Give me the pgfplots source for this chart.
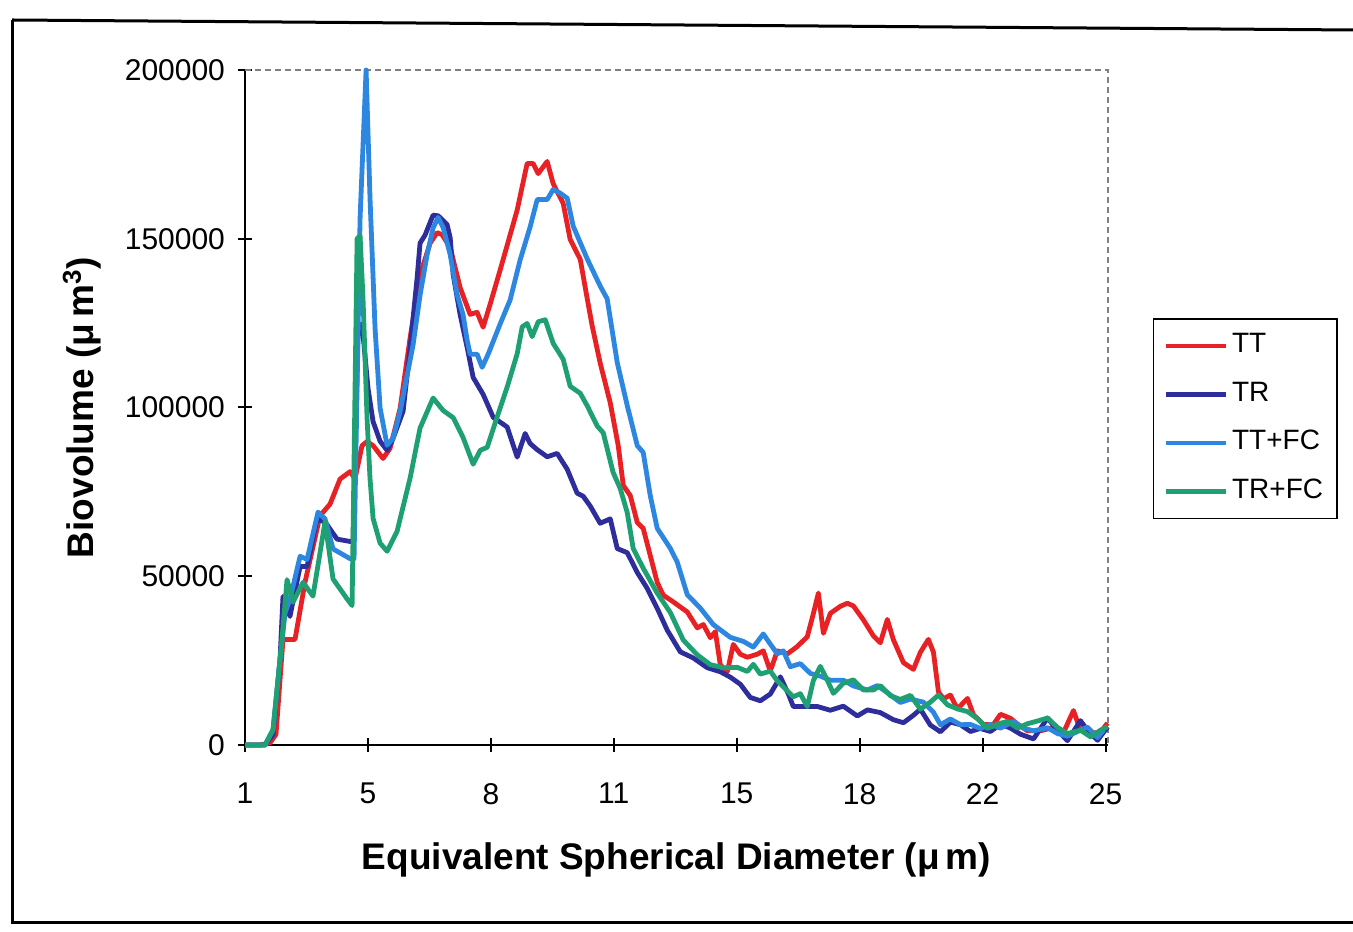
\documentclass[border=0pt]{standalone}
\usepackage{pgfplots}
\pgfplotsset{compat=1.18}
\usepackage{fontspec}
\setmainfont{Liberation Sans}
\definecolor{cTT}{RGB}{232,34,36}
\definecolor{cTR}{RGB}{45,45,155}
\definecolor{cTTFC}{RGB}{45,135,225}
\definecolor{cTRFC}{RGB}{30,160,115}
\begin{document}
\begin{tikzpicture}
\begin{scope}[x=0.5pt,y=0.5pt]
\useasboundingbox (0,0) rectangle (1353,931);
\fill[white] (0,0) rectangle (1353,931);
\draw[line width=1.5pt] (12,911) -- (12,9) -- (1353,9);
\draw[line width=1.5pt] (12,911) -- (1353,901);
\end{scope}
\begin{axis}[
  at={(122.5pt,93pt)}, anchor=south west,
  scale only axis, width=431.5pt, height=337.5pt,
  xmin=0, xmax=7.02, ymin=0, ymax=200000,
  clip=false,
  axis x line*=bottom, axis y line*=left,
  axis line style={black, line width=1.2pt},
  tick style={black, line width=1pt},
  tick align=center, major tick length=7pt,
  xtick={0,1,2,3,4,5,6,7},
  xticklabels={1,5,8,11,15,18,22,25},
  ytick={0,50000,100000,150000,200000},
  scaled y ticks=false,
  /pgf/number format/assume math mode=true,
  yticklabel style={/pgf/number format/fixed, /pgf/number format/1000 sep={}, font=\fontsize{15}{18}\selectfont, xshift=-3pt},
  xticklabel style={font=\fontsize{15}{18}\selectfont, yshift=-12pt},
  xlabel={Equivalent Spherical Diameter (μ\,m)},
  ylabel={Biovolume (μ\,m\textsuperscript{3})},
  xlabel style={at={(axis description cs:0.5,-0.1704)}, anchor=center, font=\fontsize{18.5}{22}\selectfont\bfseries},
  ylabel style={at={(axis description cs:-0.189,0.5)}, anchor=center, font=\fontsize{18.5}{22}\selectfont\bfseries},
  legend style={at={(axis description cs:1.052,0.6326)}, anchor=north west, draw=black, line width=0.8pt,
    font=\fontsize{14}{16}\selectfont, inner xsep=5pt, inner ysep=5pt, row sep=7.3pt,
    nodes={inner sep=2pt, text height=10pt, text depth=3pt}},
  legend cell align=left,
  legend image code/.code={\draw[#1, line width=2.2pt] (0pt,0pt) -- (30pt,0pt);},
  every axis plot/.append style={line width=2.4pt, line join=round},
]
\draw[gray, densely dashed, line width=0.8pt] (rel axis cs:0,1) -- (rel axis cs:1,1) -- (rel axis cs:1,0);
\addplot[cTT] coordinates {
(0,0) (0.122,0) (0.203,600) (0.252,3100) (0.309,31200) (0.407,31300) (0.488,48200) (0.610,67900)
(0.692,71400) (0.773,78800) (0.855,81000) (0.895,78900) (0.952,88700) (0.993,89900) (1.042,88700)
(1.123,84900) (1.180,87900) (1.262,99800) (1.343,120600) (1.424,139300) (1.506,148700) (1.563,151800)
(1.603,151200) (1.669,147400) (1.750,135500) (1.831,127600) (1.888,128200) (1.937,123800) (1.994,130600)
(2.076,140800) (2.214,158500) (2.295,172300) (2.344,172300) (2.385,169300) (2.458,172900) (2.507,166300)
(2.588,160500) (2.645,149800) (2.727,143900) (2.784,132200) (2.824,124200) (2.889,113200) (2.971,101400)
(3.036,88700) (3.077,76900) (3.134,73900) (3.191,65900) (3.239,64200) (3.296,56200) (3.353,48200)
(3.402,44400) (3.484,42400) (3.598,39400) (3.679,34700) (3.728,35700) (3.785,31800) (3.826,33600)
(3.866,23800) (3.923,21700) (3.972,29800) (4.029,26900) (4.086,26000) (4.167,26900) (4.216,27900)
(4.273,21900) (4.330,27900) (4.412,27000) (4.493,29200) (4.574,32100) (4.623,38900) (4.664,45000)
(4.705,33100) (4.761,39000) (4.843,41100) (4.900,42000) (4.949,41200) (5.030,37100) (5.112,32300)
(5.168,30300) (5.225,37200) (5.274,31200) (5.356,24400) (5.437,22400) (5.494,27500) (5.559,31300)
(5.600,27500) (5.641,15700) (5.681,13700) (5.738,14800) (5.795,10700) (5.877,13800) (5.925,9000)
(6.007,6100) (6.088,6100) (6.145,9100) (6.227,7900) (6.284,6200) (6.365,4200) (6.471,4200)
(6.577,5200) (6.658,3700) (6.739,10200) (6.796,4300) (6.878,3500) (6.959,3800) (7.016,6500)
};
\addlegendentry{TT}
\addplot[cTR] coordinates {
(0,0) (0.163,0) (0.228,3100) (0.285,25300) (0.309,44000) (0.366,38100) (0.448,52900) (0.505,52900)
(0.586,66900) (0.651,66100) (0.749,61000) (0.855,60300) (0.879,60300) (0.920,123400) (0.952,124800)
(1.001,105600) (1.042,95800) (1.099,90000) (1.156,87300) (1.205,90900) (1.286,98900) (1.343,117600)
(1.400,138400) (1.424,148700) (1.465,151100) (1.530,157000) (1.571,156800) (1.644,154200) (1.669,150300)
(1.693,139400) (1.750,127500) (1.807,117800) (1.856,108900) (1.937,103900) (2.019,97100) (2.133,94200)
(2.214,85300) (2.279,92300) (2.320,89300) (2.377,87500) (2.458,85400) (2.539,86400) (2.621,81700)
(2.702,74600) (2.751,73700) (2.808,70800) (2.889,65700) (2.971,67000) (3.028,58200) (3.109,57000)
(3.191,51100) (3.272,46400) (3.353,40500) (3.435,34000) (3.541,27600) (3.646,25800) (3.760,22900)
(3.866,21700) (3.948,20100) (4.029,18000) (4.110,14100) (4.192,13100) (4.273,15100) (4.355,20200)
(4.420,15100) (4.460,11400) (4.574,11400) (4.656,11400) (4.761,10300) (4.867,11500) (4.981,8600)
(5.063,10400) (5.168,9600) (5.274,7500) (5.356,6600) (5.437,8800) (5.494,10600) (5.575,5900)
(5.657,3900) (5.738,6800) (5.820,6000) (5.901,4000) (5.982,4900) (6.064,4000) (6.145,6200)
(6.227,5000) (6.308,3200) (6.414,1800) (6.528,8000) (6.609,4300) (6.690,1300) (6.796,7200)
(6.853,4400) (6.935,1400) (7.016,5300)
};
\addlegendentry{TR}
\addplot[cTTFC] coordinates {
(0,0) (0.163,0) (0.228,4500) (0.285,25300) (0.326,39200) (0.366,43200) (0.448,55900) (0.505,55000)
(0.594,69000) (0.651,67000) (0.716,58100) (0.855,55200) (0.887,55200) (0.936,156000) (0.985,200000)
(1.017,161900) (1.058,123400) (1.099,99800) (1.156,88800) (1.205,90900) (1.262,98900) (1.367,118500)
(1.424,133300) (1.481,145200) (1.530,153200) (1.571,156300) (1.612,153300) (1.669,145300) (1.726,133400)
(1.774,127500) (1.807,119900) (1.831,115800) (1.888,115800) (1.929,111900) (1.978,115800) (2.076,124800)
(2.157,131900) (2.238,143700) (2.320,153600) (2.377,161600) (2.458,161600) (2.507,164600) (2.564,163500)
(2.621,162000) (2.670,153700) (2.784,144000) (2.889,136000) (2.946,132200) (3.028,113300) (3.109,100600)
(3.191,88700) (3.239,86700) (3.296,74000) (3.353,64200) (3.459,58300) (3.516,54200) (3.598,44500)
(3.703,40600) (3.809,35700) (3.948,31900) (4.053,30700) (4.135,29000) (4.216,32900) (4.273,29900)
(4.330,27000) (4.379,27900) (4.436,23200) (4.517,24100) (4.599,21200) (4.680,20400) (4.761,19200)
(4.867,19200) (4.949,17500) (5.063,16300) (5.144,17600) (5.225,15500) (5.331,12600) (5.413,13600)
(5.519,12700) (5.600,9700) (5.657,6000) (5.738,7700) (5.820,6000) (5.901,6100) (5.982,4900)
(6.064,6100) (6.145,5000) (6.251,7000) (6.333,5000) (6.414,4200) (6.528,5100) (6.609,3400)
(6.690,2600) (6.772,4000) (6.853,5300) (6.935,2200) (6.984,4400)
};
\addlegendentry{TT+FC}
\addplot[cTRFC] coordinates {
(0,0) (0.163,0) (0.228,4500) (0.301,31200) (0.342,49000) (0.391,42300) (0.472,48200) (0.553,44100)
(0.651,66100) (0.716,49200) (0.830,43300) (0.871,41300) (0.912,150000) (0.936,150900) (0.960,132300)
(0.993,96700) (1.017,78900) (1.042,67100) (1.099,59800) (1.156,57400) (1.237,63300) (1.343,79100)
(1.424,93900) (1.530,102800) (1.612,99100) (1.693,97000) (1.774,91100) (1.856,83200) (1.913,87300)
(1.970,88200) (2.051,97200) (2.133,106100) (2.214,115900) (2.255,123900) (2.295,124900) (2.336,121000)
(2.385,125400) (2.442,126000) (2.507,119000) (2.588,114300) (2.645,106300) (2.727,104200) (2.784,100500)
(2.865,94500) (2.914,92500) (2.995,80700) (3.052,76000) (3.109,68900) (3.158,58200) (3.239,52400)
(3.353,45000) (3.459,39300) (3.565,31100) (3.679,26700) (3.785,23800) (3.891,22900) (4.005,23000)
(4.086,21800) (4.135,23900) (4.192,21000) (4.273,21900) (4.330,19000) (4.412,16000) (4.460,14300)
(4.517,15200) (4.574,11400) (4.623,19100) (4.680,23300) (4.737,19200) (4.786,15300) (4.867,18300)
(4.949,19300) (5.030,16300) (5.112,16300) (5.168,17600) (5.250,14600) (5.331,13500) (5.413,14700)
(5.494,10600) (5.575,12700) (5.641,14800) (5.714,11900) (5.795,10700) (5.877,9900) (5.958,7800)
(6.039,4900) (6.121,6200) (6.202,7000) (6.284,5000) (6.365,6300) (6.446,7100) (6.528,8000)
(6.609,5200) (6.690,3400) (6.796,4400) (6.878,2400) (6.959,4400) (7.016,5400)
};
\addlegendentry{TR+FC}
\end{axis}
\end{tikzpicture}
\end{document}
